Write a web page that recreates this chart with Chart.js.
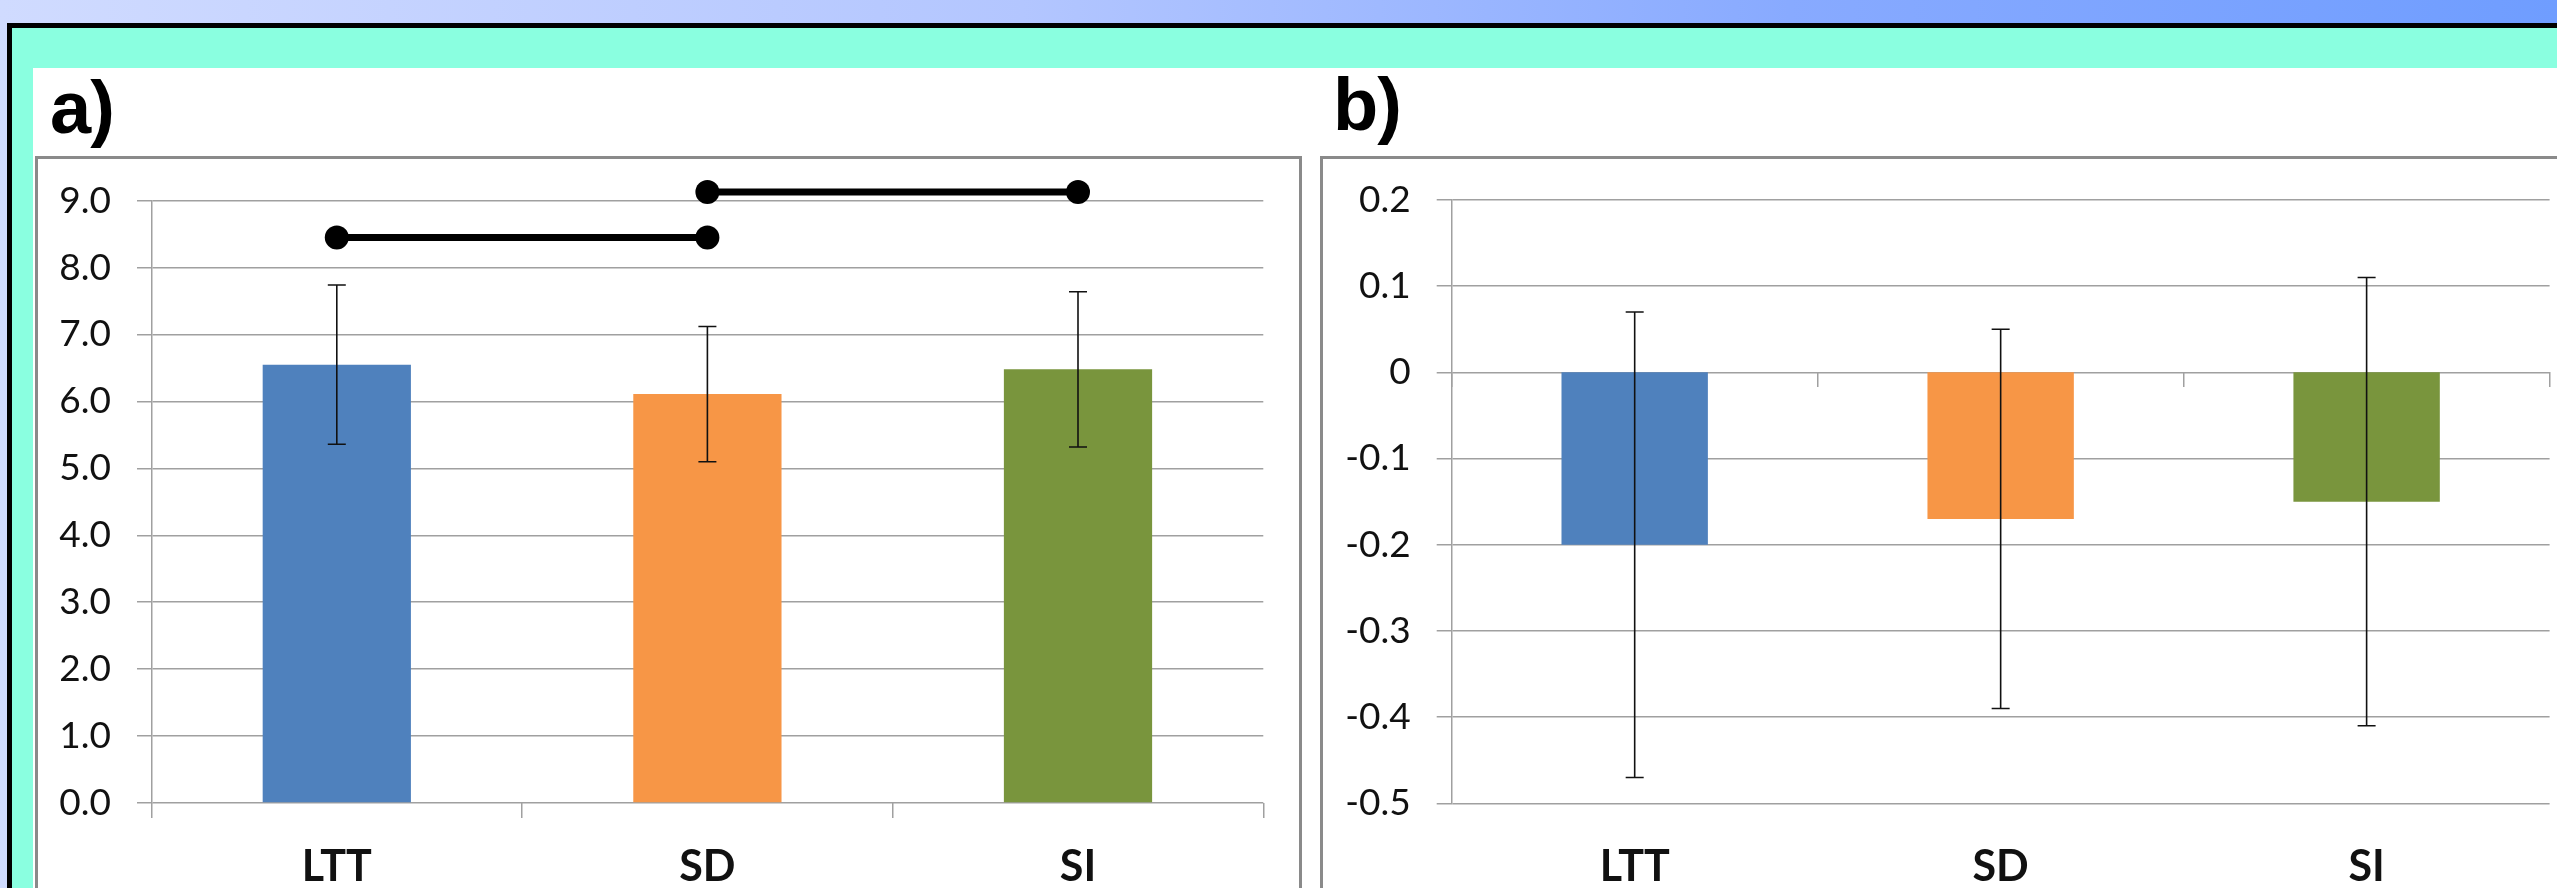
<!DOCTYPE html>
<html>
<head>
<meta charset="utf-8">
<script src="https://cdn.jsdelivr.net/npm/chart.js@4"></script>
<style>
html, body { margin: 0; padding: 0; }
body {
    width: 2557px; height: 888px; overflow: hidden; position: relative;
    background: linear-gradient(90deg, #d0dbff 0%, #b3c6ff 40%, #88aaff 70%, #6f9dff 100%);
}
#frame {
    position: absolute; left: 7px; top: 23px; width: 2600px; height: 900px;
    background: #8affe0; border-left: 5px solid #000; border-top: 5px solid #000;
}
#panel { position: absolute; left: 33px; top: 68px; width: 2600px; height: 900px; background: #fff; }
.tag {
    position: absolute; font: bold 74px "Liberation Sans", Arial, sans-serif;
    line-height: 74px; color: #000; letter-spacing: -1px;
}
.box { position: absolute; border: 3px solid #8a8a8a; box-sizing: border-box; background: #fff; }
canvas { position: absolute; }
</style>
</head>
<body>
<div id="frame"></div>
<div id="panel"></div>
<div class="tag" style="left:50px; top:71px;">a)</div>
<div class="tag" style="left:1333px; top:68px;">b)</div>
<div class="box" style="left:35px; top:156px; width:1267px; height:800px;"></div>
<div class="box" style="left:1320px; top:156px; width:1300px; height:800px;"></div>
<canvas id="chartA" width="1261" height="729" style="left:38px; top:159px;"></canvas>
<canvas id="chartB" width="1234" height="729" style="left:1323px; top:159px;"></canvas>
<script>
// categories and values
var labels = ["LTT", "SD", "SI"];
var colors = ["#4f81bd", "#f79646", "#79953d"];

// panel a) mean and +/- error
var meanA = [6.55, 6.11, 6.48];
var errA = [1.19, 1.01, 1.16];
// significance brackets in panel a)
var sigLttSd = [8.45, 8.45, null];
var sigSdSi = [null, 9.13, 9.13];

// panel b)
var meanB = [-0.20, -0.17, -0.15];
var errB = [0.27, 0.22, 0.26];

var gridColor = "#a0a0a0";
Chart.defaults.font.family = "Lato";

// draws the +/- error whiskers over each bar
var errorBars = {
    id: "errorBars",
    afterDatasetsDraw: function (chart) {
        var ctx = chart.ctx;
        var y = chart.scales.y;
        chart.data.datasets.forEach(function (ds, i) {
            if (!ds.errors) return;
            chart.getDatasetMeta(i).data.forEach(function (bar, j) {
                var v = ds.data[j], e = ds.errors[j];
                var top = y.getPixelForValue(v + e);
                var bot = y.getPixelForValue(v - e);
                ctx.save();
                ctx.strokeStyle = "#111";
                ctx.lineWidth = 1.6;
                ctx.beginPath();
                ctx.moveTo(bar.x, top); ctx.lineTo(bar.x, bot);
                ctx.moveTo(bar.x - 9, top); ctx.lineTo(bar.x + 9, top);
                ctx.moveTo(bar.x - 9, bot); ctx.lineTo(bar.x + 9, bot);
                ctx.stroke();
                ctx.restore();
            });
        });
    }
};

function sigLine(data) {
    return {
        type: "line", data: data, clip: false,
        borderColor: "#000", backgroundColor: "#000", borderWidth: 7,
        pointRadius: 12, pointHoverRadius: 12, pointBorderWidth: 0
    };
}

// fixed y axis width, and no extra top padding for the first label
function fixY(width) {
    return function (s) {
        s.width = width;
        s.paddingTop = 0;
    };
}

new Chart(document.getElementById("chartA"), {
    type: "bar",
    data: {
        labels: labels,
        datasets: [
            { data: meanA, errors: errA, backgroundColor: colors, barPercentage: 0.4, categoryPercentage: 1 },
            sigLine(sigLttSd),
            sigLine(sigSdSi)
        ]
    },
    options: {
        responsive: false, animation: false, devicePixelRatio: 1,
        layout: { padding: { top: 41.7, right: 35.7, left: 0, bottom: 0 } },
        plugins: { legend: { display: false }, tooltip: { enabled: false } },
        scales: {
            x: {
                grid: { drawOnChartArea: false, tickLength: 15, color: gridColor, lineWidth: 1.5 },
                border: { display: false },
                ticks: { padding: 23, color: "#111", font: { size: 43, weight: "bold" } },
                afterFit: function (s) { s.height = 85; }
            },
            y: {
                min: 0, max: 9,
                ticks: {
                    stepSize: 1, padding: 26, color: "#111", font: { size: 37 },
                    callback: function (v) { return v.toFixed(1); }
                },
                grid: { color: gridColor, lineWidth: 1.5, tickLength: 14.5 },
                border: { color: gridColor, width: 1.5 },
                afterFit: fixY(113.5)
            }
        }
    },
    plugins: [errorBars]
});

new Chart(document.getElementById("chartB"), {
    type: "bar",
    data: {
        labels: labels,
        datasets: [
            { data: meanB, errors: errB, backgroundColor: colors, barPercentage: 0.4, categoryPercentage: 1 }
        ]
    },
    options: {
        responsive: false, animation: false, devicePixelRatio: 1,
        layout: { padding: { top: 41, right: 7.4, left: 0, bottom: 0 } },
        plugins: { legend: { display: false }, tooltip: { enabled: false } },
        scales: {
            x: {
                grid: { drawOnChartArea: false, tickLength: 15, color: "rgba(0,0,0,0)" },
                border: { display: false },
                ticks: { padding: 23, color: "#111", font: { size: 43, weight: "bold" } },
                afterFit: function (s) { s.height = 84.7; }
            },
            // category ticks hanging from the zero line
            x2: {
                type: "category", position: { y: 0 }, offset: true,
                grid: { offset: true, drawOnChartArea: false, tickLength: 15, color: gridColor, lineWidth: 1.5 },
                border: { display: false },
                ticks: { display: false }
            },
            y: {
                min: -0.5, max: 0.2,
                ticks: {
                    stepSize: 0.1, padding: 26, color: "#111", font: { size: 37 },
                    callback: function (v) { return Math.abs(v) < 1e-9 ? "0" : v.toFixed(1); }
                },
                grid: { color: gridColor, lineWidth: 1.5, tickLength: 15 },
                border: { color: gridColor, width: 1.5 },
                afterFit: fixY(128.7)
            }
        }
    },
    plugins: [errorBars]
});
</script>
</body>
</html>
